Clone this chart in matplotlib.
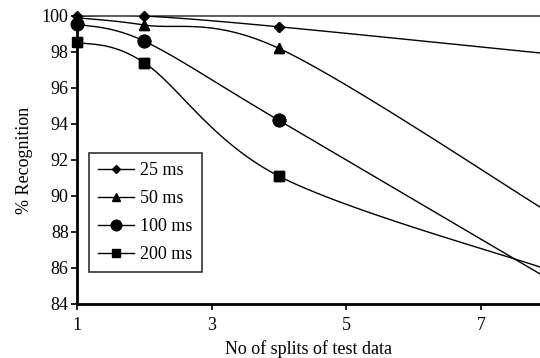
"""Recognition rate vs number of test-data splits, for four frame lengths."""

import matplotlib

matplotlib.use("Agg")
import matplotlib.pyplot as plt  # noqa: E402
import numpy as np  # noqa: E402

# values (markers at the first three splits, line runs on to 8)
splits = [1, 2, 4, 8]
rec_25ms = [100.0, 100.0, 99.4, 97.9]
rec_50ms = [99.9, 99.5, 98.2, 89.1]
rec_100ms = [99.55, 98.6, 94.2, 85.4]
rec_200ms = [98.55, 97.4, 91.1, 85.9]
labels = ["25 ms", "50 ms", "100 ms", "200 ms"]
n_marked = 3


def smooth(xs, ys, n=40):
    """Excel-style smoothed line: cubic Bezier segments through each point."""
    p = np.column_stack([xs, ys]).astype(float)
    p = np.vstack([p[0], p, p[-1]])
    out, idx = [], []
    for i in range(1, len(p) - 2):
        p0, p1, p2, p3 = p[i - 1], p[i], p[i + 1], p[i + 2]
        c1 = p1 + (p2 - p0) / 6
        c2 = p2 - (p3 - p1) / 6
        t = np.linspace(0, 1, n, endpoint=False)[:, None]
        seg = ((1 - t) ** 3 * p1 + 3 * (1 - t) ** 2 * t * c1
               + 3 * (1 - t) * t ** 2 * c2 + t ** 3 * p2)
        idx.append(len(out))
        out.extend(seg)
    idx.append(len(out))
    out.append(p[-2])
    out = np.array(out)
    return out[:, 0], out[:, 1], idx


plt.rcParams["font.family"] = ["Liberation Serif", "DejaVu Serif"]

fig = plt.figure(figsize=(5.4, 3.58), dpi=100)
ax = fig.add_axes([77 / 540, 54 / 358, 463 / 540, 288 / 358])

series = [rec_25ms, rec_50ms, rec_100ms, rec_200ms]
markers = ["D", "^", "o", "s"]
msizes = [5, 7, 9, 6.5]
for ys, lab, m, ms in zip(series, labels, markers, msizes):
    sx, sy, idx = smooth(splits, ys)
    # line clipped to the axes, markers drawn again unclipped on the spines
    ax.plot(sx, sy, color="black", lw=1.0, marker=m, ms=ms,
            markevery=idx[:n_marked], label=lab, zorder=3)
    ax.plot(splits[:n_marked], ys[:n_marked], ls="none", color="black",
            marker=m, ms=ms, clip_on=False, zorder=4)

ax.set_xlim(1, 1 + 463 / 67.33)
ax.set_ylim(84, 100)
ax.set_xticks([1, 3, 5, 7])
ax.set_yticks(range(84, 101, 2))
ax.tick_params(direction="out", length=4, width=1.2, labelsize=13, pad=2)
ax.tick_params(axis="x", pad=5)

for side in ["left", "bottom"]:
    ax.spines[side].set_linewidth(2)
ax.spines["right"].set_visible(False)
ax.spines["top"].set_color("#444444")
ax.spines["top"].set_linewidth(1.2)

ax.set_xlabel("No of splits of test data", fontsize=13, labelpad=5)
ax.set_ylabel("% Recognition", fontsize=13, labelpad=6)

leg = ax.legend(loc="lower left", bbox_to_anchor=(12 / 463, 32 / 288),
                borderaxespad=0, fontsize=13, frameon=True, fancybox=False,
                handlelength=2.0, borderpad=0.5, labelspacing=0.6,
                handletextpad=0.35, markerscale=0.85)
leg.get_frame().set_edgecolor("black")
leg.get_frame().set_linewidth(1.2)

fig.savefig("out.png", dpi=100)
plt.close(fig)
